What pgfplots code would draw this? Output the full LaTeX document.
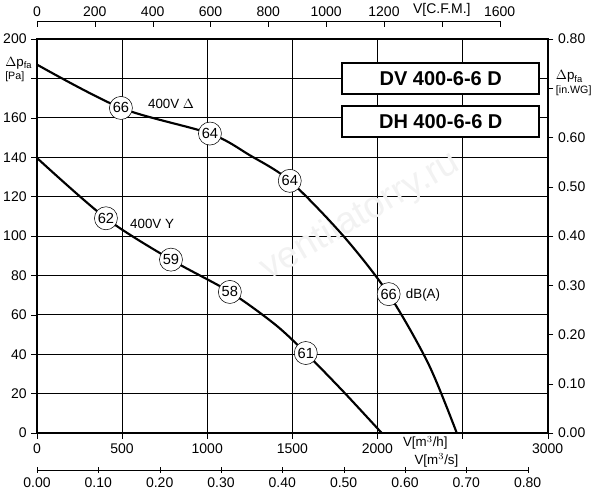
\documentclass[border=0pt]{standalone}
\usepackage{pgfplots}
\pgfplotsset{compat=1.18}
\usepackage{fontspec}
\setmainfont{Liberation Sans}
\pgfkeys{/pgf/number format/set thousands separator={}}
\begin{document}
\begin{tikzpicture}
\path[use as bounding box] (-27.75pt,-50.25pt) rectangle (422.25pt,324.75pt);
\begin{axis}[at={(0pt,0pt)},anchor=south west,scale only axis,width=383pt,height=295.5pt,
 xmin=0,xmax=3000,ymin=0,ymax=200,xtick={0,500,...,3000},ytick={0,20,...,200},
 xticklabels={0,500,1000,1500,2000,,3000},yticklabels={0,20,40,60,80,100,120,140,160,,200},
 grid=major,grid style={black,line width=0.5pt},axis line style={line width=1.5pt},
 tick style={black},tick align=outside,xtick pos=bottom,ytick pos=left,
 ticklabel style={font=\fontsize{10.5}{12}\selectfont},
 clip=false]
\node[font=\fontsize{28}{30}\selectfont,text=gray!10,rotate=30] at (axis cs:1900,110) {ventilatorry.ru};
\addplot[line width=1.6pt,smooth] coordinates {(0,187)(493,165)(1016,152)(1250,141)(1485,128)(1800,100)(2066,70.5)(2300,35)(2466,0)};
\addplot[line width=1.6pt,smooth] coordinates {(0,139.6)(405,109)(787,88)(1133,71.6)(1400,55)(1579,40.6)(1800,21)(2025,0)};
\foreach \x/\y/\t in {493/165/66,1016/152/64,1485/128/64,2066/70.5/66,405/109/62,787/88/59,1133/71.6/58,1579/40.6/61}
 {\edef\tmp{\noexpand\node[circle,draw,fill=white,inner sep=1pt,minimum size=17pt,font=\noexpand\fontsize{11}{12}\noexpand\selectfont] at (axis cs:\x,\y) {\t};}\tmp}
\node[anchor=west,font=\fontsize{10}{12}\selectfont] at (axis cs:625,167) {400V $\Delta$};
\node[anchor=west,font=\fontsize{10}{12}\selectfont] at (axis cs:520,106) {400V Y};
\node[anchor=west,font=\fontsize{10}{12}\selectfont] at (axis cs:2140,70) {dB(A)};
\node[anchor=west,font=\fontsize{10}{12}\selectfont,inner sep=0] at (axis cs:2149,-5) {V[m$^3$/h]};
\node[draw,line width=1.5pt,fill=white,minimum width=148pt,minimum height=23pt,font=\bfseries\fontsize{15}{16}\selectfont] at (axis cs:2372,180) {DV 400-6-6 D};
\node[draw,line width=1.5pt,fill=white,minimum width=148pt,minimum height=23pt,font=\bfseries\fontsize{15}{16}\selectfont] at (axis cs:2372,158) {DH 400-6-6 D};
\node[anchor=north west,align=left,font=\fontsize{10}{12}\selectfont,inner sep=0] at (axis cs:-188,191) {$\Delta$p$_{\mathrm{fa}}$\\[-2pt]{\fontsize{8}{9}\selectfont[Pa]}};
\node[anchor=north west,align=left,font=\fontsize{10}{12}\selectfont,inner sep=0] at (axis cs:3047,184) {$\Delta$p$_{\mathrm{fa}}$\\[-2pt]{\fontsize{8}{9}\selectfont[in.WG]}};
\end{axis}
\begin{axis}[at={(0pt,0pt)},anchor=south west,scale only axis,width=383pt,height=295.5pt,
 xmin=0,xmax=3000,ymin=0,ymax=0.8,axis x line=none,axis y line*=right,ytick={0,0.1,...,0.8},
 yticklabels={0.00,0.10,0.20,0.30,0.40,0.50,0.60,,0.80},
 yticklabel style={font=\fontsize{10.5}{12}\selectfont},
 tick align=outside,tick style={black},axis line style={line width=1.5pt}]
\addplot[draw=none] coordinates {(0,0)};
\end{axis}
\begin{axis}[at={(0pt,308pt)},anchor=south west,scale only axis,width=347pt,height=1pt,
 xmin=0,xmax=1600,ymin=0,ymax=1,axis y line=none,axis x line*=top,xtick={0,200,...,1600},
 xticklabels={0,200,400,600,800,1000,1200,{V[C.F.M.]},1600},
 tick align=inside,x axis line style={-},
 xticklabel style={font=\fontsize{10.5}{12}\selectfont},
 tick style={black}]
\addplot[draw=none] coordinates {(0,0)};
\end{axis}
\begin{axis}[at={(0pt,-27.75pt)},anchor=south west,scale only axis,width=368pt,height=1pt,
 xmin=0,xmax=0.8,ymin=0,ymax=1,axis y line=none,axis x line*=bottom,xtick={0,0.1,...,0.8},
 xticklabels={0.00,0.10,0.20,0.30,0.40,0.50,0.60,0.70,0.80},
 tick align=center,x axis line style={-},tick style={black},
 xticklabel style={font=\fontsize{10.5}{12}\selectfont}, clip=false]
\addplot[draw=none] coordinates {(0,0)};
\node[anchor=south west,font=\fontsize{10}{12}\selectfont,inner sep=1pt] at (axis cs:0.613,1) {V[m$^3$/s]};
\end{axis}
\end{tikzpicture}
\end{document}
